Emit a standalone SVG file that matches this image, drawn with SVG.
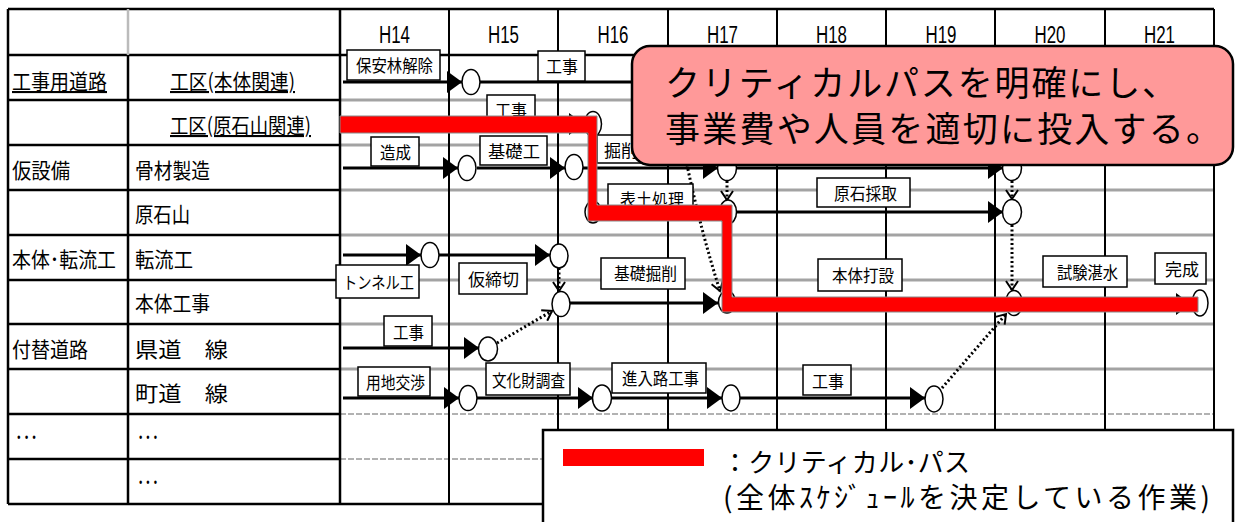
<svg xmlns="http://www.w3.org/2000/svg" width="1239" height="522" viewBox="0 0 1239 522">
<style>
.tb{stroke:#000;stroke-width:2.5;fill:none}
.gl{stroke:#a3a3a3;stroke-width:3}
.gd{stroke:#999;stroke-width:1.5;stroke-dasharray:6 2}
.vl{stroke:#000;stroke-width:2}
.bx{fill:#fff;stroke:#000;stroke-width:1.5}
.t{font-family:"Noto Sans CJK JP","Liberation Sans",sans-serif;font-size:17px;fill:#000}
.lt{font-family:"Noto Sans CJK JP","Liberation Sans",sans-serif;font-size:21px;fill:#000}
.ht{font-family:"Liberation Sans",sans-serif;font-size:23px;fill:#000}
.ev{fill:#fff;stroke:#000;stroke-width:1.5}
.ar{stroke:#000;stroke-width:3;fill:none;marker-end:url(#ah)}
.pl{stroke:#000;stroke-width:3;fill:none}
.dt{stroke:#000;stroke-width:3;stroke-dasharray:2 2.5;fill:none;marker-end:url(#oh)}
.ct{font-family:"Noto Sans CJK JP",sans-serif;font-size:35px;fill:#000}
.gt{font-family:"Noto Sans CJK JP",sans-serif;fill:#000}
</style>
<defs>
<marker id="ah" markerUnits="userSpaceOnUse" markerWidth="16" markerHeight="22" refX="15" refY="11" orient="auto"><path d="M0,0 L15,11 L0,22 z" fill="#000"/></marker>
<marker id="oh" markerUnits="userSpaceOnUse" markerWidth="14" markerHeight="14" refX="10" refY="7" orient="auto"><path d="M1,1 L10,7 L1,13" fill="none" stroke="#000" stroke-width="2"/></marker>
</defs>
<rect width="1239" height="522" fill="#fff"/>
<g id="table">
<g>
<line class="gl" x1="340" y1="100" x2="1214" y2="100"/>
<line class="gl" x1="340" y1="145" x2="1214" y2="145"/>
<line class="gl" x1="340" y1="190" x2="1214" y2="190"/>
<line class="gl" x1="340" y1="235" x2="1214" y2="235"/>
<line class="gl" x1="340" y1="280" x2="1214" y2="280"/>
<line class="gl" x1="340" y1="324" x2="1214" y2="324"/>
<line class="gl" x1="340" y1="369" x2="1214" y2="369"/>
<line class="gd" x1="340" y1="414" x2="1214" y2="414"/>
<line class="gd" x1="340" y1="459" x2="1214" y2="459"/>
</g>
<g>
<line class="vl" x1="449" y1="9" x2="449" y2="504"/>
<line class="vl" x1="558" y1="9" x2="558" y2="504"/>
<line class="vl" x1="668" y1="9" x2="668" y2="504"/>
<line class="vl" x1="777" y1="9" x2="777" y2="504"/>
<line class="vl" x1="886" y1="9" x2="886" y2="504"/>
<line class="vl" x1="995" y1="9" x2="995" y2="504"/>
<line class="vl" x1="1105" y1="9" x2="1105" y2="504"/>
<line class="vl" x1="1214" y1="9" x2="1214" y2="504"/>
</g>
<g>
<line class="tb" x1="8" y1="9" x2="1214" y2="9"/>
<line class="tb" x1="8" y1="55" x2="1214" y2="55"/>
<line class="tb" x1="8" y1="100" x2="340" y2="100"/>
<line class="tb" x1="8" y1="145" x2="340" y2="145"/>
<line class="tb" x1="8" y1="190" x2="340" y2="190"/>
<line class="tb" x1="8" y1="235" x2="340" y2="235"/>
<line class="tb" x1="8" y1="280" x2="340" y2="280"/>
<line class="tb" x1="8" y1="324" x2="340" y2="324"/>
<line class="tb" x1="8" y1="369" x2="340" y2="369"/>
<line class="tb" x1="8" y1="414" x2="340" y2="414"/>
<line class="tb" x1="8" y1="459" x2="340" y2="459"/>
<line class="tb" x1="8" y1="504" x2="1214" y2="504"/>
<line class="tb" x1="8" y1="9" x2="8" y2="504"/>
<line stroke="#bbb" stroke-width="2.5" x1="128" y1="9" x2="128" y2="55"/>
<line class="tb" x1="128" y1="55" x2="128" y2="504"/>
<line class="tb" x1="340" y1="9" x2="340" y2="504"/>
</g>
<g>
<text class="ht" x="394.5" y="43" text-anchor="middle" textLength="31" lengthAdjust="spacingAndGlyphs">H14</text>
<text class="ht" x="503.5" y="43" text-anchor="middle" textLength="31" lengthAdjust="spacingAndGlyphs">H15</text>
<text class="ht" x="613" y="43" text-anchor="middle" textLength="31" lengthAdjust="spacingAndGlyphs">H16</text>
<text class="ht" x="722.5" y="43" text-anchor="middle" textLength="31" lengthAdjust="spacingAndGlyphs">H17</text>
<text class="ht" x="831.5" y="43" text-anchor="middle" textLength="31" lengthAdjust="spacingAndGlyphs">H18</text>
<text class="ht" x="941" y="43" text-anchor="middle" textLength="31" lengthAdjust="spacingAndGlyphs">H19</text>
<text class="ht" x="1050" y="43" text-anchor="middle" textLength="31" lengthAdjust="spacingAndGlyphs">H20</text>
<text class="ht" x="1159.5" y="43" text-anchor="middle" textLength="31" lengthAdjust="spacingAndGlyphs">H21</text>
</g>
<g>
<text class="lt" x="12" y="89" textLength="95" lengthAdjust="spacingAndGlyphs" text-decoration="underline">工事用道路</text>
<text class="lt" x="170" y="89" textLength="125" lengthAdjust="spacingAndGlyphs" text-decoration="underline">工区(本体関連)</text>
<text class="lt" x="170" y="133" textLength="141" lengthAdjust="spacingAndGlyphs" text-decoration="underline">工区(原石山関連)</text>
<text class="lt" x="12" y="178" textLength="58" lengthAdjust="spacingAndGlyphs">仮設備</text>
<text class="lt" x="135" y="178" textLength="75" lengthAdjust="spacingAndGlyphs">骨材製造</text>
<text class="lt" x="135" y="222" textLength="55" lengthAdjust="spacingAndGlyphs">原石山</text>
<text class="lt" x="12" y="267" textLength="104" lengthAdjust="spacingAndGlyphs">本体･転流工</text>
<text class="lt" x="135" y="267" textLength="58" lengthAdjust="spacingAndGlyphs">転流工</text>
<text class="lt" x="135" y="311" textLength="75" lengthAdjust="spacingAndGlyphs">本体工事</text>
<text class="lt" x="12" y="357" textLength="76" lengthAdjust="spacingAndGlyphs">付替道路</text>
<text class="lt" x="135" y="357" textLength="93" lengthAdjust="spacingAndGlyphs">県道　線</text>
<text class="lt" x="135" y="401" textLength="93" lengthAdjust="spacingAndGlyphs">町道　線</text>
<text class="lt" x="15" y="445" textLength="23" lengthAdjust="spacingAndGlyphs">･･･</text>
<text class="lt" x="137" y="445" textLength="22" lengthAdjust="spacingAndGlyphs">･･･</text>
<text class="lt" x="137" y="490" textLength="22" lengthAdjust="spacingAndGlyphs">･･･</text>
</g>
</g>
<g id="connectors">
<line class="ar" x1="343" y1="82" x2="462" y2="82"/>
<line class="pl" x1="480" y1="82" x2="640" y2="82"/>
<line class="ar" x1="343" y1="124" x2="584" y2="124"/>
<line class="ar" x1="343" y1="168" x2="458" y2="168"/>
<line class="ar" x1="477" y1="168" x2="565" y2="168"/>
<line class="ar" x1="583" y1="168" x2="718" y2="168"/>
<line class="ar" x1="737" y1="168" x2="1003" y2="168"/>
<line class="pl" x1="602" y1="212" x2="719" y2="212"/>
<line class="ar" x1="737" y1="212" x2="1003" y2="212"/>
<line class="ar" x1="343" y1="255" x2="421" y2="255"/>
<line class="ar" x1="439" y1="255" x2="550" y2="255"/>
<line class="ar" x1="570" y1="303" x2="718" y2="303"/>
<line class="pl" x1="736" y1="303" x2="1005" y2="303"/>
<line class="ar" x1="1023" y1="304" x2="1191" y2="304"/>
<line class="ar" x1="343" y1="348" x2="479" y2="348"/>
<line class="ar" x1="343" y1="398" x2="459" y2="398"/>
<line class="ar" x1="477" y1="398" x2="593" y2="398"/>
<line class="ar" x1="611" y1="398" x2="722" y2="398"/>
<line class="ar" x1="740" y1="398" x2="925" y2="398"/>
<line class="dt" x1="727" y1="181" x2="727" y2="200"/>
<line class="dt" x1="1012" y1="181" x2="1012" y2="199"/>
<line class="dt" x1="559" y1="268" x2="559" y2="291"/>
<line class="dt" x1="1012" y1="225" x2="1012" y2="290"/>
<path class="dt" d="M686,160 Q700,228 720,291"/>
<line class="dt" x1="497" y1="343" x2="552" y2="311"/>
<line class="dt" x1="942" y1="388" x2="1006" y2="314"/>
</g>
<g id="events">
<ellipse id="e1" class="ev" cx="471" cy="82" rx="9" ry="12.5"/>
<ellipse id="e2" class="ev" cx="593" cy="124" rx="8.5" ry="12.5"/>
<ellipse id="e3" class="ev" cx="467" cy="168" rx="9" ry="12.5"/>
<ellipse id="e4" class="ev" cx="574" cy="167" rx="9" ry="12.5"/>
<ellipse id="e5" class="ev" cx="727" cy="168" rx="9.5" ry="12.5"/>
<ellipse id="e6" class="ev" cx="1012" cy="168" rx="9.5" ry="12.5"/>
<ellipse id="e7" class="ev" cx="593" cy="212" rx="8" ry="11"/>
<ellipse id="e8" class="ev" cx="728" cy="212" rx="8.5" ry="12"/>
<ellipse id="e9" class="ev" cx="1012" cy="212" rx="9.5" ry="12.5"/>
<ellipse id="e10" class="ev" cx="430" cy="255" rx="9" ry="12.5"/>
<ellipse id="e11" class="ev" cx="559" cy="256" rx="9" ry="12"/>
<ellipse id="e12" class="ev" cx="561" cy="304" rx="9" ry="12.5"/>
<ellipse id="e13" class="ev" cx="727" cy="302" rx="8.5" ry="11"/>
<ellipse id="e14" class="ev" cx="1014" cy="303" rx="8.5" ry="12.5"/>
<ellipse id="e15" class="ev" cx="1200" cy="303" rx="8" ry="13"/>
<ellipse id="e16" class="ev" cx="488" cy="349" rx="9.5" ry="12"/>
<ellipse id="e17" class="ev" cx="468" cy="398" rx="9" ry="12.5"/>
<ellipse id="e18" class="ev" cx="602" cy="398" rx="9.5" ry="13"/>
<ellipse id="e19" class="ev" cx="731" cy="398" rx="9" ry="13"/>
<ellipse id="e20" class="ev" cx="934" cy="399" rx="9" ry="13"/>
</g>
<g id="labels">
<g id="l1"><rect class="bx" x="347" y="50" width="93" height="30"/><text class="t" x="356" y="72" textLength="77" lengthAdjust="spacingAndGlyphs">保安林解除</text></g>
<g id="l2"><rect class="bx" x="538" y="51" width="47" height="30"/><text class="t" x="546" y="73" textLength="32" lengthAdjust="spacingAndGlyphs">工事</text></g>
<g id="l3"><rect class="bx" x="487" y="95" width="48" height="30"/><text class="t" x="495" y="117" textLength="32" lengthAdjust="spacingAndGlyphs">工事</text></g>
<g id="l4"><rect class="bx" x="371" y="137" width="48" height="29"/><text class="t" x="380" y="159" textLength="31" lengthAdjust="spacingAndGlyphs">造成</text></g>
<g id="l5"><rect class="bx" x="480" y="136" width="67" height="29"/><text class="t" x="488" y="158" textLength="52" lengthAdjust="spacingAndGlyphs">基礎工</text></g>
<g id="l6"><rect class="bx" x="597" y="135" width="60" height="28"/><text class="t" x="604" y="157" textLength="34" lengthAdjust="spacingAndGlyphs">掘削</text></g>
<g id="l7"><rect class="bx" x="608" y="184" width="85" height="30"/><text class="t" x="620" y="206" textLength="64" lengthAdjust="spacingAndGlyphs">表土処理</text></g>
<g id="l8"><rect class="bx" x="817" y="178" width="93" height="29"/><text class="t" x="834" y="200" textLength="63" lengthAdjust="spacingAndGlyphs">原石採取</text></g>
<g id="l9"><rect class="bx" x="336" y="265" width="83" height="33"/><text class="t" x="343" y="289" textLength="71" lengthAdjust="spacingAndGlyphs">トンネル工</text></g>
<g id="l10"><rect class="bx" x="459" y="263" width="68" height="31"/><text class="t" x="468" y="286" textLength="51" lengthAdjust="spacingAndGlyphs">仮締切</text></g>
<g id="l11"><rect class="bx" x="601" y="258" width="84" height="31"/><text class="t" x="614" y="280" textLength="63" lengthAdjust="spacingAndGlyphs">基礎掘削</text></g>
<g id="l12"><rect class="bx" x="818" y="259" width="84" height="32"/><text class="t" x="832" y="282" textLength="62" lengthAdjust="spacingAndGlyphs">本体打設</text></g>
<g id="l13"><rect class="bx" x="1043" y="256" width="84" height="31"/><text class="t" x="1057" y="279" textLength="61" lengthAdjust="spacingAndGlyphs">試験湛水</text></g>
<g id="l14"><rect class="bx" x="1155" y="253" width="51" height="31"/><text class="t" x="1165" y="276" textLength="34" lengthAdjust="spacingAndGlyphs">完成</text></g>
<g id="l15"><rect class="bx" x="384" y="316" width="48" height="30"/><text class="t" x="393" y="339" textLength="31" lengthAdjust="spacingAndGlyphs">工事</text></g>
<g id="l16"><rect class="bx" x="358" y="367" width="72" height="29"/><text class="t" x="366" y="389" textLength="59" lengthAdjust="spacingAndGlyphs">用地交渉</text></g>
<g id="l17"><rect class="bx" x="486" y="363" width="84" height="32"/><text class="t" x="492" y="387" textLength="73" lengthAdjust="spacingAndGlyphs">文化財調査</text></g>
<g id="l18"><rect class="bx" x="612" y="363" width="94" height="30"/><text class="t" x="622" y="385" textLength="77" lengthAdjust="spacingAndGlyphs">進入路工事</text></g>
<g id="l19"><rect class="bx" x="803" y="365" width="48" height="30"/><text class="t" x="812" y="388" textLength="32" lengthAdjust="spacingAndGlyphs">工事</text></g>
</g>
<g id="critical-path">
<polygon points="340,116 597,116 597,205 732,205 732,297 1198,297 1198,312 722,312 722,221 588,221 588,133 340,133" fill="#ff0000" stroke="#888" stroke-width="1"/>
</g>
<g id="callout">
<rect x="632" y="46" width="601" height="119" rx="18" fill="#ff9999" stroke="#000" stroke-width="2.5"/>
<text class="ct" x="665" y="96" textLength="512" lengthAdjust="spacing">クリティカルパスを明確にし、</text>
<text class="ct" x="665" y="142" textLength="556" lengthAdjust="spacing">事業費や人員を適切に投入する。</text>
</g>
<g id="legend">
<rect x="543" y="430" width="690" height="100" fill="#fff" stroke="#000" stroke-width="2.5"/>
<rect x="563" y="449" width="141" height="17" fill="#ff0000"/>
<text class="gt" x="722" y="472" font-size="26" textLength="248" lengthAdjust="spacing">：クリティカル･パス</text>
<text class="gt" x="723" y="508" font-size="28" textLength="487" lengthAdjust="spacing">(全体ｽｹｼﾞｭｰﾙを決定している作業)</text>
</g>
</svg>
